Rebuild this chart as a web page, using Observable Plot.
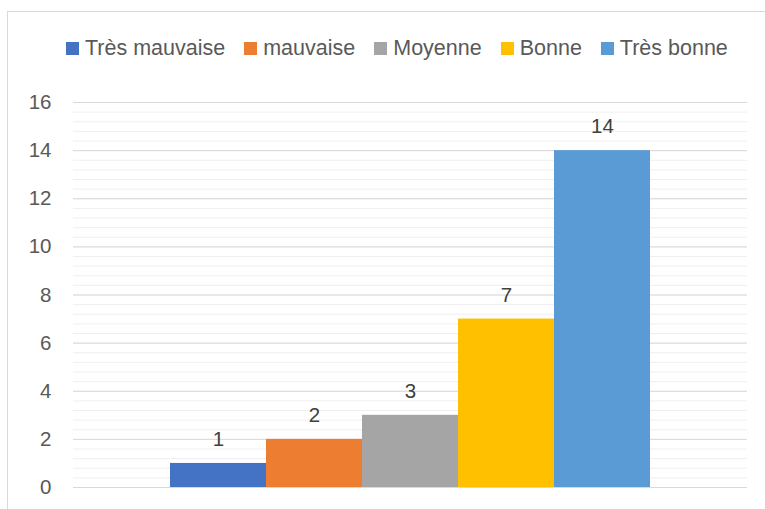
<!DOCTYPE html>
<html>
<head>
<meta charset="utf-8">
<script src="https://cdn.jsdelivr.net/npm/d3@7"></script>
<script src="https://cdn.jsdelivr.net/npm/@observablehq/plot@0.6"></script>
<style>
  html, body { margin: 0; padding: 0; background: #fff; width: 765px; height: 509px; overflow: hidden; }
  #frame { position: absolute; left: 7px; top: 11px; width: 800px; height: 600px; border: 1px solid #d9d9d9; box-sizing: border-box; }
  #legend { position: absolute; left: 66px; top: 36px; display: flex; align-items: center; font-family: "Liberation Sans", Arial, sans-serif; font-size: 21.5px; color: #595959; white-space: nowrap; }
  #legend .item { display: flex; align-items: center; margin-right: 19px; }
  #legend .sw { width: 13px; height: 13px; margin-right: 6px; }
  #chart { position: absolute; left: 0; top: 0; }
</style>
</head>
<body>
<div id="frame"></div>
<div id="legend"></div>
<div id="chart"></div>
<script>
const categories = ["Très mauvaise", "mauvaise", "Moyenne", "Bonne", "Très bonne"];
const values = [1, 2, 3, 7, 14];
const colors = ["#4472c4", "#ed7d31", "#a5a5a5", "#ffc000", "#5b9bd5"];
const majorTicks = [0, 2, 4, 6, 8, 10, 12, 14, 16];
const minorTicks = d3.range(0, 16.001, 0.4);

const data = categories.map((c, i) => ({category: c, value: values[i]}));

const legend = document.getElementById("legend");
categories.forEach((c, i) => {
  const item = document.createElement("div");
  item.className = "item";
  const sw = document.createElement("div");
  sw.className = "sw";
  sw.style.background = colors[i];
  const t = document.createElement("span");
  t.textContent = c;
  item.appendChild(sw);
  item.appendChild(t);
  legend.appendChild(item);
});

const chart = Plot.plot({
  width: 765,
  height: 509,
  marginTop: 102,
  marginBottom: 22,
  marginLeft: 73,
  marginRight: 18,
  style: {fontFamily: "Liberation Sans, Arial, sans-serif", background: "transparent"},
  x: {domain: categories, paddingInner: 0, paddingOuter: 1, axis: null},
  y: {domain: [0, 16], ticks: majorTicks, label: null},
  color: {domain: categories, range: colors},
  marks: [
    Plot.ruleY(minorTicks, {stroke: "#efefef", strokeWidth: 1}),
    Plot.ruleY(majorTicks, {stroke: "#d9d9d9", strokeWidth: 1}),
    Plot.axisY({ticks: majorTicks, tickSize: 0, tickPadding: 22, fontSize: 20.5, fill: "#595959", label: null}),
    Plot.barY(data, {x: "category", y: "value", fill: "category"}),
    Plot.text(data, {x: "category", y: "value", text: d => String(d.value), dy: -24, fontSize: 20.5, fill: "#404040"})
  ]
});
document.getElementById("chart").appendChild(chart);
</script>
</body>
</html>
